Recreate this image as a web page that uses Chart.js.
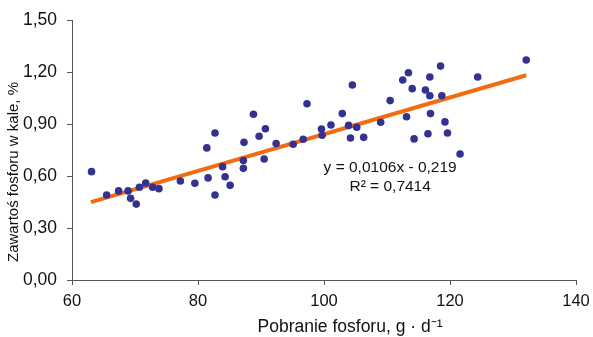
<!DOCTYPE html>
<html>
<head>
<meta charset="utf-8">
<script src="https://cdn.jsdelivr.net/npm/chart.js@4"></script>
<style>
    html, body { margin: 0; padding: 0; background: #ffffff; }
    #box { width: 593px; height: 337px; position: relative; }
</style>
</head>
<body>
<div id="box"><canvas id="pChart"></canvas></div>
<script>
/* ==================================================================
   PHOSPHORUS INTAKE vs FAECAL P — scatter + trend line
   ================================================================== */

// --- Data ---
const intakeX = [63.1, 65.5, 67.4, 68.9, 69.3, 70.2, 70.7, 71.7, 72.8, 73.8,
                 77.2, 79.5, 81.4, 81.6, 82.7, 82.7, 83.9, 84.3, 85.1, 87.3,
                 87.2, 87.2, 88.8, 89.7, 90.7, 90.5, 92.4, 95.1, 96.7, 97.3,
                 99.6, 99.7, 101.1, 102.9, 103.9, 104.5, 104.2, 105.2, 106.3, 109.0,
                 110.5, 112.5, 113.1, 113.4, 114.0, 114.3, 116.1, 116.8, 116.8, 116.9,
                 116.5, 118.5, 118.7, 119.2, 119.6, 121.6, 124.4, 132.1];
const faecalY = [0.625, 0.49, 0.514, 0.514, 0.471, 0.438, 0.535, 0.56, 0.535, 0.527,
                 0.571, 0.558, 0.762, 0.589, 0.848, 0.49, 0.654, 0.596, 0.546, 0.794,
                 0.689, 0.644, 0.956, 0.829, 0.873, 0.698, 0.787, 0.783, 0.812, 1.017,
                 0.871, 0.835, 0.894, 0.96, 0.892, 1.125, 0.819, 0.881, 0.823, 0.91,
                 1.035, 1.154, 0.942, 1.196, 1.104, 0.814, 1.096, 1.171, 1.063, 0.96,
                 0.844, 1.234, 1.063, 0.912, 0.848, 0.727, 1.171, 1.269];

// trend line end points (as drawn)
const trendX = [63.0, 132.1];
const trendY = [0.449, 1.181];

const yTicks = [0, 0.3, 0.6, 0.9, 1.2, 1.5];
const xTicks = [60, 80, 100, 120, 140];

const eqLines = ["y = 0,0106x - 0,219", "R² = 0,7414"];
const xTitle = "Pobranie fosforu, g · d⁻¹";
const yTitle = "Zawartoś fosforu w kale, %";

document.addEventListener("DOMContentLoaded", function () {

    const axisColor = '#555555';
    const textColor = '#111111';
    const fontFam = 'Arial, "Liberation Sans", sans-serif';

    // --- Extra text (equation + axis titles) ---
    const textPlugin = {
        id: 'extraText',
        afterDraw(chart) {
            const ctx = chart.ctx;
            const xs = chart.scales.x;
            const ys = chart.scales.y;
            ctx.save();
            ctx.fillStyle = textColor;
            ctx.textAlign = 'center';
            ctx.textBaseline = 'middle';

            // equation box
            ctx.font = '15.5px ' + fontFam;
            const ex = xs.getPixelForValue(110.5);
            ctx.fillText(eqLines[0], ex, ys.getPixelForValue(0.646));
            ctx.fillText(eqLines[1], ex, ys.getPixelForValue(0.537));

            // x title
            ctx.font = '17.5px ' + fontFam;
            ctx.fillText(xTitle, 350, 327);

            // y title (rotated)
            ctx.font = '15px ' + fontFam;
            ctx.translate(14, 172);
            ctx.rotate(-Math.PI / 2);
            ctx.fillText(yTitle, 0, 0);
            ctx.restore();
        }
    };

    const points = intakeX.map((x, i) => ({ x: x, y: faecalY[i] }));
    const trend = trendX.map((x, i) => ({ x: x, y: trendY[i] }));

    new Chart(document.getElementById('pChart'), {
        type: 'scatter',
        data: {
            datasets: [
                {
                    data: points,
                    backgroundColor: '#33338f',
                    borderColor: '#33338f',
                    pointRadius: 3.8,
                    borderWidth: 0,
                    order: 1
                },
                {
                    type: 'line',
                    data: trend,
                    borderColor: '#f26c12',
                    borderWidth: 4,
                    pointRadius: 0,
                    fill: false,
                    order: 2
                }
            ]
        },
        options: {
            responsive: true,
            maintainAspectRatio: false,
            animation: false,
            layout: { padding: { left: 0, top: 20, right: 17, bottom: 0 } },
            plugins: {
                legend: { display: false },
                tooltip: { enabled: false }
            },
            scales: {
                x: {
                    type: 'linear',
                    min: 60,
                    max: 140,
                    afterBuildTicks: (s) => { s.ticks = xTicks.map(v => ({ value: v })); },
                    afterFit: (s) => { s.height = 57; s.paddingLeft = 0; s.paddingRight = 0; },
                    grid: { drawOnChartArea: false, color: axisColor, tickLength: 5 },
                    border: { color: axisColor, width: 1 },
                    ticks: {
                        color: textColor,
                        font: { family: fontFam, size: 16.5 },
                        padding: 7,
                        maxRotation: 0
                    }
                },
                y: {
                    min: 0,
                    max: 1.5,
                    afterBuildTicks: (s) => { s.ticks = yTicks.map(v => ({ value: v })); },
                    afterFit: (s) => { s.width = 72; s.paddingTop = 0; s.paddingBottom = 0; },
                    grid: { drawOnChartArea: false, color: axisColor, tickLength: 5 },
                    border: { color: axisColor, width: 1 },
                    ticks: {
                        color: textColor,
                        font: { family: fontFam, size: 17.5 },
                        padding: 10,
                        callback: (v) => v.toFixed(2).replace('.', ',')
                    }
                }
            }
        },
        plugins: [textPlugin]
    });
});
</script>
</body>
</html>
